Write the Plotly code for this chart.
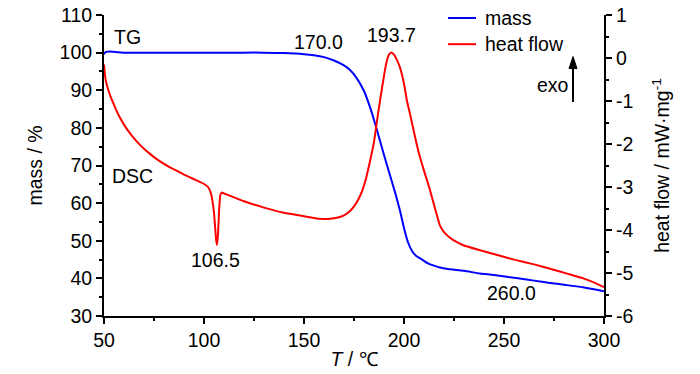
import plotly.graph_objects as go

# ---- data ----
T_mass = [50, 51, 53, 55, 60, 70, 80, 90, 100, 110, 120, 130, 140, 150, 155, 160, 165, 170, 173, 176,
          180, 183, 185, 188, 190, 192, 194, 196, 198, 200, 202, 204, 206, 209, 212, 215, 218, 222,
          230, 238, 245, 256, 265, 273, 280, 290, 300]
mass = [99.6, 100.2, 100.3, 100.2, 100.0, 100.0, 100.0, 100.0, 100.0, 100.0, 100.0, 100.0, 99.9, 99.6,
        99.3, 98.8, 97.9, 96.6, 95.4, 93.5, 89.8, 85.5, 82.1, 76.6, 72.8, 69.2, 65.6, 62.0, 58.0, 53.4,
        49.6, 47.3, 46.0, 45.0, 44.0, 43.4, 42.9, 42.5, 42.0, 41.3, 40.9, 40.1, 39.4, 38.8, 38.3, 37.6, 36.6]

T_hf = [50, 50.5, 51, 52, 53, 54, 55, 56, 57, 58, 60, 62, 64, 66, 68, 70, 73, 76, 80, 85, 90, 95, 100,
        102, 103.5, 105, 106, 106.5, 107, 107.6, 108.2, 109, 110, 115, 120, 130, 140, 150, 158, 163,
        167, 170, 173, 175, 177, 179, 181, 183, 185, 187, 189, 191, 192.5, 193.7, 195, 196.5, 198, 200,
        201.5, 203, 205.5, 207.5, 210, 213, 215.5, 218, 220, 223, 226, 230, 238, 248, 256, 265, 273,
        282, 290, 296, 300]
heat_flow = [-0.15, -0.4, -0.55, -0.72, -0.86, -0.98, -1.09, -1.2, -1.3, -1.39, -1.55, -1.69, -1.81,
             -1.92, -2.02, -2.11, -2.23, -2.34, -2.46, -2.59, -2.71, -2.82, -2.93,
             -3.0, -3.15, -3.6, -4.2, -4.35, -4.1, -3.5, -3.18, -3.13, -3.15, -3.24, -3.33, -3.48, -3.6,
             -3.68, -3.74, -3.74, -3.71, -3.66, -3.56, -3.45, -3.3, -3.1, -2.8, -2.4, -1.95, -1.3, -0.7,
             -0.15, 0.08, 0.13, 0.08, -0.05, -0.22, -0.6, -1.0, -1.3, -1.83, -2.22, -2.62, -3.07, -3.5,
             -3.9, -4.05, -4.18, -4.27, -4.36, -4.47, -4.6, -4.7, -4.8, -4.9, -5.02, -5.13, -5.24, -5.33]

x_ticks = [50, 100, 150, 200, 250, 300]
y_left_ticks = [30, 40, 50, 60, 70, 80, 90, 100, 110]
y_right_ticks = [-6, -5, -4, -3, -2, -1, 0, 1]
y_right_ticktext = ["-6", "-5", "-4", "-3", "-2", "-1", "0", "1"]

series_names = ["mass", "heat flow"]
series_colors = ["#0000ff", "#ff0000"]

# ---- figure ----
FONT = "Liberation Sans, Arial, sans-serif"
FS = 19.5

fig = go.Figure()
fig.add_trace(go.Scatter(x=T_mass, y=mass, mode="lines", name=series_names[0], showlegend=False,
                         line=dict(color=series_colors[0], width=2, shape="spline", smoothing=0.6), yaxis="y"))
fig.add_trace(go.Scatter(x=T_hf, y=heat_flow, mode="lines", name=series_names[1], showlegend=False,
                         line=dict(color=series_colors[1], width=2, shape="spline", smoothing=0.4), yaxis="y2"))

axis_common = dict(showgrid=False, zeroline=False, showline=True, linecolor="black", linewidth=2,
                   ticks="outside", ticklen=6, tickwidth=2, tickcolor="black", automargin=False,
                   tickfont=dict(family=FONT, size=FS, color="black"))

fig.update_layout(
    width=700, height=374, autosize=False,
    margin=dict(l=104, r=96, t=15, b=58),
    paper_bgcolor="white", plot_bgcolor="white",
    font=dict(family=FONT, size=FS, color="black"),
    showlegend=False,
    xaxis=dict(range=[50, 300], tickvals=x_ticks, mirror=False,
               minor=dict(dtick=25, tick0=50, ticks="outside", ticklen=3, tickwidth=2, tickcolor="black"),
               title=dict(text="<i>T</i> / ℃", font=dict(family=FONT, size=FS), standoff=2),
               **axis_common),
    yaxis=dict(range=[30, 110], tickvals=y_left_ticks,
               minor=dict(dtick=5, tick0=30, ticks="outside", ticklen=3, tickwidth=2, tickcolor="black"),
               title=dict(text="mass / %", font=dict(family=FONT, size=FS), standoff=12),
               **axis_common),
    yaxis2=dict(range=[-6, 1], tickvals=y_right_ticks, ticktext=y_right_ticktext,
                overlaying="y", side="right",
                minor=dict(dtick=0.5, tick0=-6, ticks="outside", ticklen=3, tickwidth=2, tickcolor="black"),
                title=dict(text="heat flow / mW·mg<sup>-1</sup>", font=dict(family=FONT, size=FS), standoff=23),
                **axis_common),
)

# manual legend (paper coordinates)
legend_rows = [0.99, 0.903]
for name, color, ly in zip(series_names, series_colors, legend_rows):
    fig.add_shape(type="line", xref="paper", yref="paper", x0=0.688, x1=0.744, y0=ly, y1=ly,
                  line=dict(color=color, width=2))
    fig.add_annotation(text=name, x=0.758, y=ly, xref="paper", yref="paper", showarrow=False,
                       xanchor="left", yanchor="middle", font=dict(family=FONT, size=FS, color="black"))

labels = [
    ("TG", 0.046, 0.927),
    ("DSC", 0.056, 0.465),
    ("106.5", 0.222, 0.186),
    ("170.0", 0.428, 0.910),
    ("193.7", 0.574, 0.934),
    ("260.0", 0.814, 0.076),
    ("exo", 0.898, 0.767),
]
for txt, px, py in labels:
    fig.add_annotation(text=txt, x=px, y=py, xref="paper", yref="paper", showarrow=False,
                       xanchor="center", yanchor="middle", font=dict(family=FONT, size=FS, color="black"))

# exo arrow: shaft + head
fig.add_shape(type="line", xref="paper", yref="paper", x0=0.938, x1=0.938, y0=0.711, y1=0.835,
              line=dict(color="black", width=2))
fig.add_shape(type="path", xref="paper", yref="paper",
              path="M 0.930 0.822 L 0.946 0.822 L 0.938 0.862 Z",
              fillcolor="black", line=dict(color="black", width=1))

# remove the default 8 px page margin so the 700x374 figure fills the window exactly
fig.write_html("out.html", config={"displayModeBar": False},
               post_script="document.body.style.margin='0';document.body.style.overflow='hidden';")
